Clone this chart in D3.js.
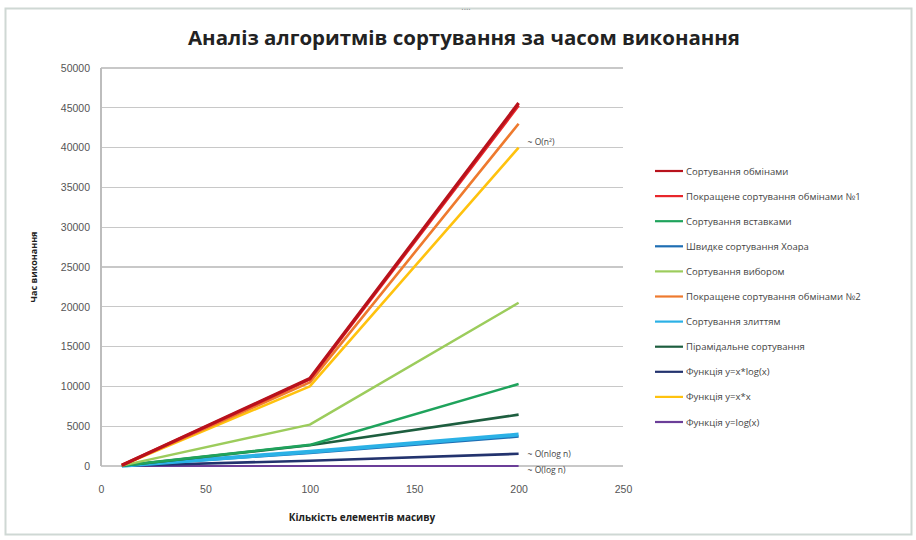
<!DOCTYPE html>
<html><head><meta charset="utf-8">
<script src="https://cdn.jsdelivr.net/npm/d3@7"></script>
<style>
html,body{margin:0;padding:0;background:#fff;}
svg{display:block;font-family:"Open Sans","Noto Sans",sans-serif;}
</style></head>
<body><svg id="c" width="916" height="540"></svg>
<script>
const xValues = [10, 100, 200];
const seriesNames = [
  "Сортування обмінами",
  "Покращене сортування обмінами №1",
  "Сортування вставками",
  "Швидке сортування Хоара",
  "Сортування вибором",
  "Покращене сортування обмінами №2",
  "Сортування злиттям",
  "Пірамідальне сортування",
  "Функція y=x*log(x)",
  "Функція y=x*x",
  "Функція y=log(x)"
];
const bubble = [100, 11000, 45600];
const bubble1 = [100, 10900, 45300];
const insertion = [50, 2650, 10300];
const quick = [30, 1650, 3700];
const selection = [50, 5200, 20500];
const bubble2 = [100, 10500, 43000];
const merge = [30, 1800, 3950];
const heap = [40, 2600, 6450];
const nlogn = [33, 664, 1530];
const square = [100, 10000, 40000];
const logn = [3, 7, 8];
const seriesValues = [bubble, bubble1, insertion, quick, selection, bubble2, merge, heap, nlogn, square, logn];
const seriesColors = ["#b8121c","#e8262b","#1fa35c","#1f6eb3","#9ccc5c","#ee7a2e","#2bb1e6","#1d5e3f","#23336e","#ffc20e","#6b3e98"];
const seriesWidths = [3.2, 3, 2.6, 2.6, 2.4, 2.6, 4, 2.6, 2.6, 2.6, 2];
const xTicks = [0, 50, 100, 150, 200, 250];
const yTicks = [0, 5000, 10000, 15000, 20000, 25000, 30000, 35000, 40000, 45000, 50000];
const annotations = [
  {label: "~ O(n²)", x: 200, y: square[2]},
  {label: "~ O(nlog n)", x: 200, y: nlogn[2]},
  {label: "~ O(log n)", x: 200, y: logn[2]}
];

const svg = d3.select("#c");
svg.append("rect").attr("x",5.5).attr("y",8.5).attr("width",906).attr("height",526)
  .attr("fill","#fff").attr("stroke","#cfd8d4").attr("stroke-width",2);
svg.append("text").attr("x",466).attr("y",10).attr("text-anchor","middle")
  .attr("font-size",9).attr("fill","#888").text("....");

const x = d3.scaleLinear().domain([0,250]).range([101,623]);
const y = d3.scaleLinear().domain([0,50000]).range([466,68]);

svg.append("g").selectAll("line").data(yTicks).join("line")
  .attr("x1",x(0)).attr("x2",x(250)).attr("y1",d=>y(d)).attr("y2",d=>y(d))
  .attr("stroke","#c8c8c8").attr("stroke-width",1.2).attr("shape-rendering","crispEdges");
svg.append("line").attr("x1",x(0)).attr("x2",x(0)).attr("y1",y(50000)).attr("y2",y(0))
  .attr("stroke","#bdbdbd").attr("stroke-width",1.2).attr("shape-rendering","crispEdges");

const yAxis = d3.axisLeft(y).tickValues(yTicks).tickSize(0).tickPadding(11).tickFormat(d3.format("d"));
const gy = svg.append("g").attr("transform",`translate(${x(0)},0)`).call(yAxis);
gy.select(".domain").remove();
gy.selectAll("text").attr("font-size",10.5).attr("fill","#555");
const xAxis = d3.axisBottom(x).tickValues(xTicks).tickSize(0).tickPadding(20).tickFormat(d3.format("d"));
const gx = svg.append("g").attr("transform",`translate(0,${y(0)})`).call(xAxis);
gx.select(".domain").remove();
gx.selectAll("text").attr("font-size",10.5).attr("fill","#555");

const line = d3.line().x((d,i)=>x(xValues[i])).y(d=>y(d));
const order = [10, 8, 3, 6, 7, 2, 4, 9, 5, 1, 0];
svg.append("g").selectAll("path").data(order).join("path")
  .attr("d", i=>line(seriesValues[i]))
  .attr("fill","none").attr("stroke", i=>seriesColors[i])
  .attr("stroke-width", i=>seriesWidths[i]).attr("stroke-linejoin","round");

svg.append("g").selectAll("text").data(annotations).join("text")
  .attr("x", d=>x(d.x)+9).attr("y", (d,i)=>y(d.y)+ (i===0?-3: i===1?3:7))
  .attr("font-size",8.5).attr("fill","#444").text(d=>d.label);

svg.append("text").attr("x",464).attr("y",45).attr("text-anchor","middle")
  .attr("font-size",19.5).attr("font-weight","bold").attr("fill","#222")
  .attr("textLength",552).attr("lengthAdjust","spacingAndGlyphs")
  .text("Аналіз алгоритмів сортування за часом виконання");

svg.append("text").attr("transform","translate(37,267) rotate(-90)").attr("text-anchor","middle")
  .attr("font-size",9).attr("font-weight","bold").attr("fill","#222").text("Час виконання");
svg.append("text").attr("x",362).attr("y",521).attr("text-anchor","middle")
  .attr("font-size",10).attr("font-weight","bold").attr("fill","#222").text("Кількість елементів масиву");

const lg = svg.append("g").selectAll("g").data(seriesNames).join("g")
  .attr("transform",(d,i)=>`translate(655,${171 + i*25.1})`);
lg.append("line").attr("x1",0).attr("x2",28).attr("y1",0).attr("y2",0)
  .attr("stroke",(d,i)=>seriesColors[i]).attr("stroke-width",2.2);
lg.append("text").attr("x",31).attr("y",3.5).attr("font-size",9.5).attr("fill","#444").text(d=>d);
</script></body></html>
